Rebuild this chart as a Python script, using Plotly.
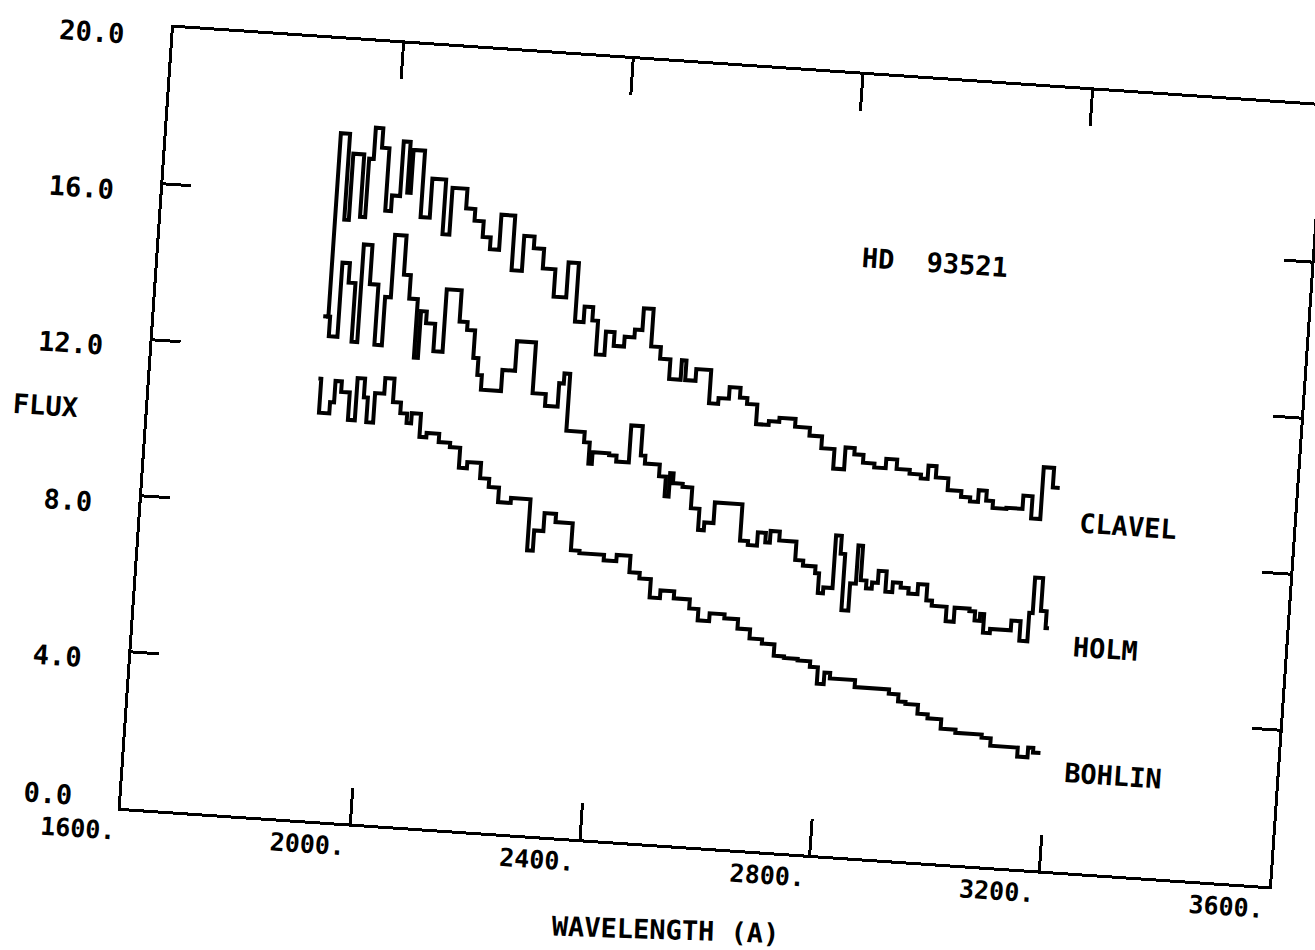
import plotly.graph_objects as go

# IUE-era ultraviolet flux of HD 93521 from three calibrations (step spectra)
clavel_wl = [1893, 1902, 1918, 1926, 1945, 1954, 1962, 1975, 1988, 1998, 2012, 2024, 2030,
             2050, 2066, 2090, 2102, 2128, 2144, 2160, 2174, 2190, 2214, 2232, 2250, 2268,
             2290, 2312, 2330, 2345, 2360, 2370, 2385, 2400, 2418, 2435, 2448, 2465, 2482,
             2500, 2520, 2528, 2546, 2572, 2588, 2606, 2625, 2638, 2656, 2678, 2696, 2724,
             2750, 2772, 2795, 2814, 2830, 2846, 2866, 2886, 2905, 2928, 2948, 2960, 2974,
             2996, 3020, 3036, 3050, 3064, 3076, 3100, 3128, 3144, 3160, 3178, 3190]
clavel_flux = [12.9, 17.6, 15.4, 17.1, 15.5, 17.0, 17.8, 17.3, 15.7, 16.1, 17.5, 16.2, 17.3,
               15.6, 16.6, 15.2, 16.4, 15.9, 15.6, 15.2, 14.9, 15.8, 14.4, 15.3, 15.0, 14.5,
               13.8, 14.7, 13.2, 13.6, 13.26, 12.4, 13.0, 12.65, 12.9, 13.1, 13.66, 12.7, 12.4,
               11.9, 12.4, 11.9, 12.2, 11.35, 11.5, 11.8, 11.55, 11.4, 10.9, 11.0, 11.1, 10.9,
               10.7, 10.4, 9.9, 10.46, 10.3, 10.1, 10.0, 10.24, 10.0, 9.9, 9.8, 10.14, 9.85,
               9.55, 9.4, 9.3, 9.6, 9.35, 9.17, 9.2, 9.54, 8.97, 10.3, 9.8, 9.8]

holm_wl = [1898, 1905, 1920, 1933, 1945, 1955, 1970, 1985, 1998, 2008, 2028, 2040, 2055,
           2062, 2072, 2088, 2104, 2130, 2144, 2158, 2167, 2175, 2210, 2232, 2265, 2288,
           2310, 2318, 2328, 2360, 2370, 2376, 2405, 2418, 2440, 2460, 2468, 2494, 2506,
           2513, 2519, 2536, 2553, 2568, 2578, 2594, 2642, 2656, 2672, 2686, 2694, 2710,
           2740, 2754, 2776, 2783, 2792, 2808, 2818, 2826, 2838, 2848, 2856, 2866, 2876,
           2886, 2900, 2912, 2926, 2940, 2956, 2972, 2982, 3008, 3022, 3048, 3058, 3067,
           3074, 3086, 3122, 3138, 3152, 3158, 3172, 3182, 3188]
holm_flux = [12.9, 12.4, 14.3, 13.8, 12.3, 14.8, 13.8, 12.26, 13.5, 15.1, 14.1, 13.5, 12.0,
             13.2, 12.9, 12.2, 13.8, 13.0, 12.8, 12.1, 11.67, 11.3, 11.84, 12.6, 11.3, 11.0,
             11.6, 11.86, 10.4, 10.14, 9.6, 9.9, 9.85, 9.7, 10.65, 9.9, 9.7, 9.4, 8.9,
             9.5, 9.25, 9.17, 8.64, 8.1, 8.3, 8.83, 7.9, 7.8, 8.14, 7.9, 8.2, 7.97,
             7.5, 7.37, 7.2, 6.7, 6.85, 8.2, 7.74, 6.3, 7.0, 7.98, 7.1, 6.9, 7.06,
             7.37, 6.85, 7.1, 6.98, 6.84, 7.1, 6.7, 6.57, 6.2, 6.56, 6.5, 6.27, 6.45,
             5.97, 6.08, 6.33, 5.83, 6.56, 7.47, 6.63, 6.2, 6.2]

bohlin_wl = [1892, 1897, 1915, 1922, 1933, 1948, 1960, 1973, 1980, 1992, 2008, 2024, 2038,
             2050, 2058, 2074, 2086, 2108, 2128, 2146, 2160, 2184, 2200, 2218, 2240, 2274,
             2284, 2300, 2320, 2350, 2365, 2408, 2430, 2454, 2472, 2492, 2510, 2534, 2562,
             2578, 2598, 2624, 2648, 2670, 2692, 2714, 2732, 2756, 2778, 2792, 2804, 2814,
             2858, 2918, 2935, 2948, 2970, 2988, 3012, 3038, 3084, 3100, 3148, 3166, 3175,
             3188]
bohlin_flux = [11.3, 10.43, 10.72, 11.27, 11.0, 10.3, 11.38, 10.9, 10.27, 11.03, 11.43, 10.83,
               10.56, 10.32, 10.58, 9.99, 10.1, 9.89, 9.78, 9.27, 9.43, 9.04, 8.83, 8.46,
               8.59, 7.28, 7.8, 8.26, 8.05, 7.36, 7.3, 7.16, 7.32, 6.9, 6.76, 6.29, 6.49,
               6.31, 6.08, 5.79, 5.99, 5.89, 5.65, 5.42, 5.31, 5.02, 4.98, 4.94, 4.8, 4.38,
               4.68, 4.54, 4.36, 4.25, 4.07, 4.02, 3.79, 3.69, 3.45, 3.37, 3.29, 3.1, 2.87,
               3.12, 3.0, 3.0]

x_ticks = [1600, 2000, 2400, 2800, 3200, 3600]
x_tick_text = ["1600.", "2000.", "2400.", "2800.", "3200.", "3600."]
y_ticks = [0, 4, 8, 12, 16, 20]
y_tick_text = ["0.0", "4.0", "8.0", "12.0", "16.0", "20.0"]

series_names = ["CLAVEL", "HOLM", "BOHLIN"]
series_label_pos = [(3313, 8.95), (3288, 5.77), (3316, 2.54)]

FONT = "DejaVu Sans Mono"
INK = "black"

fig = go.Figure()
for wl, fl, name in [(clavel_wl, clavel_flux, "CLAVEL"),
                     (holm_wl, holm_flux, "HOLM"),
                     (bohlin_wl, bohlin_flux, "BOHLIN")]:
    fig.add_trace(go.Scatter(x=wl, y=fl, mode="lines", name=name,
                             line=dict(color=INK, width=4, shape="hv"),
                             showlegend=False, hoverinfo="skip"))

annotations = []
# wavelength tick labels: right end of the text sits at the tick
for v, t in zip(x_ticks, x_tick_text):
    annotations.append(dict(x=v, y=0, xref="x", yref="paper", text=t, showarrow=False,
                            xanchor="right", yanchor="middle", xshift=-2, yshift=-23,
                            font=dict(family=FONT, size=25, color=INK, weight="bold")))
# flux tick labels
for v, t in zip(y_ticks, y_tick_text):
    annotations.append(dict(x=0, y=v, xref="paper", yref="y", text=t, showarrow=False,
                            xanchor="right", yanchor="middle", xshift=-47,
                            yshift=(10 if v == 0 else -9),
                            font=dict(family=FONT, size=27, color=INK, weight="bold")))
# series names
for name, (lx, ly) in zip(series_names, series_label_pos):
    annotations.append(dict(x=lx, y=ly, xref="x", yref="y", text=name, showarrow=False,
                            xanchor="center", yanchor="middle",
                            font=dict(family=FONT, size=27, color=INK, weight="bold")))
annotations += [
    dict(x=2946, y=15.33, xref="x", yref="y", text="HD  93521", showarrow=False,
         xanchor="center", yanchor="middle",
         font=dict(family=FONT, size=27, color=INK, weight="bold")),
    dict(x=0.4795, y=-0.108, xref="paper", yref="paper", text="WAVELENGTH (A)",
         showarrow=False, xanchor="center", yanchor="middle", textangle=-2,
         font=dict(family=FONT, size=27, color=INK, weight="bold")),
    dict(x=-0.089, y=0.5065, xref="paper", yref="paper", text="FLUX", showarrow=False,
         xanchor="center", yanchor="middle",
         font=dict(family=FONT, size=27, color=INK, weight="bold")),
]

axis_common = dict(showline=True, linecolor=INK, linewidth=3, mirror="ticks",
                   ticks="inside", tickcolor=INK, tickwidth=3,
                   showgrid=False, zeroline=False, showticklabels=False, fixedrange=True)

fig.update_layout(
    width=1315, height=950,
    margin=dict(l=146, r=18, t=66, b=102),
    paper_bgcolor="white", plot_bgcolor="white",
    xaxis=dict(range=[1600, 3600], tickvals=x_ticks[1:-1], ticklen=36, **axis_common),
    yaxis=dict(range=[0, 20], tickvals=y_ticks[1:-1], ticklen=28, **axis_common),
    annotations=annotations,
)

# the plotter sheet sits slightly skewed: turn the whole figure about the frame centre
tilt_js = """
document.documentElement.style.overflow = 'hidden';
document.body.style.overflow = 'hidden';
document.body.style.margin = '0';
var gd = document.getElementById('{plot_id}');
gd.style.transformOrigin = '721.5px 456.5px';
gd.style.transform = 'rotate(3.9deg)';
"""

fig.write_html("out.html", config={"displayModeBar": False, "staticPlot": True},
               post_script=tilt_js)
